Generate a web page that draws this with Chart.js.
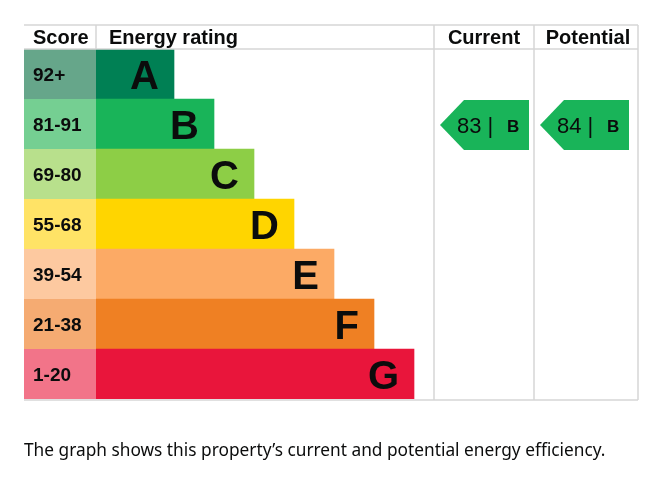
<!DOCTYPE html>
<html>
<head>
<meta charset="utf-8">
<script src="https://cdn.jsdelivr.net/npm/chart.js@4/dist/chart.umd.min.js"></script>
<style>
html,body{margin:0;padding:0;background:#fff;}
#wrap{position:relative;width:655px;height:482px;}
</style>
</head>
<body>
<div id="wrap"><canvas id="c" width="655" height="482"></canvas></div>
<script>
// ---- data ----
const ratings = ['A','B','C','D','E','F','G'];
const scoreRanges = ['92+','81-91','69-80','55-68','39-54','21-38','1-20'];
const bandMin = [92,81,69,55,39,21,1];
const bandLength = [2,3,4,5,6,7,8];
const barColors = ['#008054','#19b459','#8dce46','#ffd500','#fcaa65','#ef8023','#e9153b'];
const scoreColors = ['#66a68a','#75cf92','#b8e08c','#ffe366','#fdc9a0','#f5ab72','#f27489'];
const headers = ['Score','Energy rating','Current','Potential'];
const currentScore = 83;
const potentialScore = 84;
const caption = 'The graph shows this property\u2019s current and potential energy efficiency.';

function bandIndex(score){
  for(let i=0;i<bandMin.length;i++){ if(score>=bandMin[i]) return i; }
  return bandMin.length-1;
}

const W = 655, H = 482;
const tableLeft = 24, tableRight = 638, tableTop = 25;
const colCurW = 100;
const ink = '#0b0c0c';
const gridCol = '#d6d6d6';

const epcPlugin = {
  id:'epc',
  beforeDatasetsDraw(chart){
    const {ctx, chartArea:a, scales:{y}} = chart;
    const rowH = y.getPixelForValue(1) - y.getPixelForValue(0);
    ctx.save();
    ratings.forEach((r,i)=>{
      const yc = y.getPixelForValue(i);
      ctx.fillStyle = scoreColors[i];
      ctx.fillRect(tableLeft, yc-rowH/2, a.left-tableLeft, rowH);
      ctx.fillStyle = ink;
      ctx.font = 'bold 19px "Liberation Sans", Arial, sans-serif';
      ctx.textAlign='left'; ctx.textBaseline='alphabetic';
      ctx.fillText(scoreRanges[i], tableLeft+9, yc+7);
    });
    ctx.restore();
  },
  afterDatasetsDraw(chart){
    const {ctx, chartArea:a, scales:{x,y}} = chart;
    const rowH = y.getPixelForValue(1) - y.getPixelForValue(0);
    ctx.save();
    ratings.forEach((r,i)=>{
      const yc = y.getPixelForValue(i);
      const xe = x.getPixelForValue(bandLength[i]);
      ctx.fillStyle = ink;
      ctx.font = 'bold 40px "Liberation Sans", Arial, sans-serif';
      ctx.textAlign='right'; ctx.textBaseline='alphabetic';
      ctx.fillText(r, xe-15, yc+15);
    });
    const colCurL = a.right, colPotL = a.right + colCurW;
    const top = tableTop, headBottom = a.top, bottom = a.bottom+1;
    ctx.strokeStyle = gridCol; ctx.lineWidth = 1.5;
    ctx.beginPath();
    ctx.moveTo(tableLeft, top); ctx.lineTo(tableRight, top);
    ctx.moveTo(tableLeft, headBottom); ctx.lineTo(tableRight, headBottom);
    ctx.moveTo(tableLeft, bottom); ctx.lineTo(tableRight, bottom);
    ctx.moveTo(a.left, top); ctx.lineTo(a.left, headBottom);
    ctx.moveTo(colCurL, top); ctx.lineTo(colCurL, bottom);
    ctx.moveTo(colPotL, top); ctx.lineTo(colPotL, bottom);
    ctx.moveTo(tableRight, top); ctx.lineTo(tableRight, bottom);
    ctx.stroke();
    ctx.fillStyle = ink;
    ctx.font = 'bold 20px "Liberation Sans", Arial, sans-serif';
    ctx.textBaseline='alphabetic';
    const hy = (top+headBottom)/2 + 7;
    ctx.textAlign='left';
    ctx.fillText(headers[0], tableLeft+9, hy);
    ctx.fillText(headers[1], a.left+13, hy);
    ctx.textAlign='center';
    ctx.fillText(headers[2], (colCurL+colPotL)/2, hy);
    ctx.fillText(headers[3], (colPotL+tableRight)/2 + 2, hy);
    const drawArrow = (score, l) => {
      const i = bandIndex(score);
      const yc = y.getPixelForValue(i);
      const t = yc - rowH/2 + 1, b = yc + rowH/2 + 1;
      const tip = l + 6, rx = tip + 89, shoulder = tip + 24;
      ctx.fillStyle = barColors[i];
      ctx.beginPath();
      ctx.moveTo(tip, (t+b)/2);
      ctx.lineTo(shoulder, t);
      ctx.lineTo(rx, t);
      ctx.lineTo(rx, b);
      ctx.lineTo(shoulder, b);
      ctx.closePath();
      ctx.fill();
      ctx.fillStyle = ink;
      ctx.textAlign='left';
      ctx.font = '22px "Liberation Sans", Arial, sans-serif';
      ctx.fillText(score + ' |', l + 23, (t+b)/2 + 8);
      ctx.font = 'bold 17px "Liberation Sans", Arial, sans-serif';
      ctx.fillText(ratings[i], l + 73, (t+b)/2 + 7);
    };
    drawArrow(currentScore, colCurL);
    drawArrow(potentialScore, colPotL);
    ctx.fillStyle = ink;
    ctx.textAlign='left';
    ctx.font = '19px "Noto Sans", sans-serif';
    const w = ctx.measureText(caption).width;
    const fs = 19 * 582 / w;
    ctx.font = fs.toFixed(2) + 'px "Noto Sans", sans-serif';
    ctx.fillText(caption, tableLeft, 456);
    ctx.restore();
  }
};

new Chart(document.getElementById('c'), {
  type:'bar',
  data:{
    labels: ratings,
    datasets:[{
      data: bandLength,
      backgroundColor: barColors,
      borderWidth:0,
      barPercentage:1,
      categoryPercentage:1
    }]
  },
  options:{
    indexAxis:'y',
    responsive:false,
    devicePixelRatio:1,
    animation:false,
    layout:{padding:{left:96, right:W-434, top:49, bottom:H-399}},
    plugins:{legend:{display:false}, tooltip:{enabled:false}, title:{display:false}},
    scales:{
      x:{display:false, min:0.05, max:8.5},
      y:{display:false}
    }
  },
  plugins:[epcPlugin]
});
</script>
</body>
</html>
